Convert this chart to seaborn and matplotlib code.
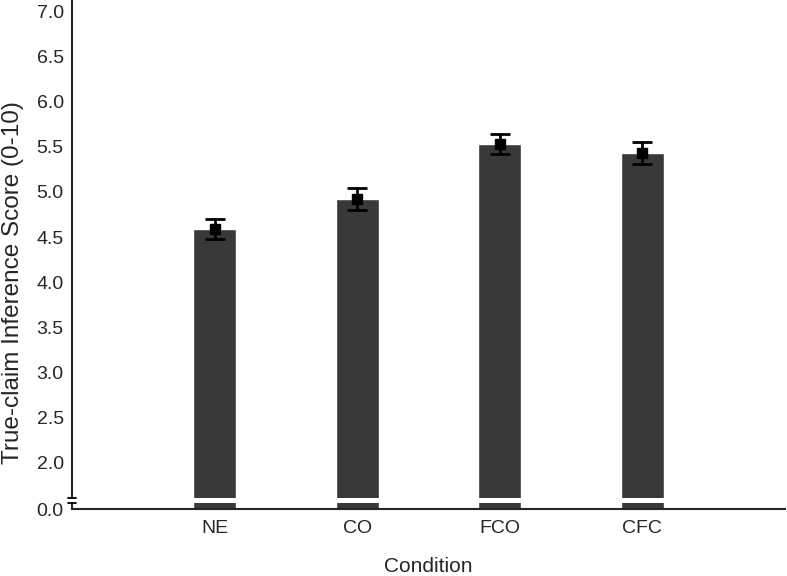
import matplotlib
matplotlib.use("Agg")
import matplotlib.pyplot as plt
import seaborn as sns
import numpy as np

conditions = ["NE", "CO", "FCO", "CFC"]
means = [4.59, 4.92, 5.53, 5.43]
errors = [0.11, 0.12, 0.11, 0.12]
upper_ticks = [2.0, 2.5, 3.0, 3.5, 4.0, 4.5, 5.0, 5.5, 6.0, 6.5, 7.0]

sns.set_style("white")
plt.rcParams["font.family"] = ["Liberation Sans", "DejaVu Sans"]

W, H = 787, 576
fig = plt.figure(figsize=(W / 100, H / 100), dpi=100)
left, right = 72 / W, 785 / W
ax_top = fig.add_axes([left, (H - 497.5) / H, right - left, 497.5 / H])
ax_bot = fig.add_axes([left, (H - 509) / H, right - left, 6 / H])

bar_color = "#393939"
for ax in (ax_top, ax_bot):
    sns.barplot(x=conditions, y=means, color=bar_color, width=0.3,
                errorbar=None, saturation=1, ax=ax)
    ax.set_xlim(-1, 4)
    for s in ["top", "right"]:
        ax.spines[s].set_visible(False)
    ax.spines["left"].set_linewidth(1.5)
    ax.tick_params(axis="y", direction="in", length=4, width=1.3,
                   labelsize=14, pad=6)
    ax.set_facecolor("none")

ax_top.errorbar(np.arange(len(conditions)), means, yerr=errors, fmt="s",
                color="black", markersize=7, capsize=7, elinewidth=2,
                capthick=2)
ax_top.set_ylim(1.61, 7.13)
ax_top.set_yticks(upper_ticks)
ax_top.set_yticklabels([f"{t:.1f}" for t in upper_ticks])
ax_top.spines["bottom"].set_visible(False)
ax_top.set_xticks([])
ax_top.set_xlabel("")
ax_top.set_ylabel("True-claim Inference Score (0-10)", fontsize=17.5)
ax_top.yaxis.set_label_coords(-0.068, 0.432)

ax_bot.set_ylim(0, 0.07)
ax_bot.set_yticks([0])
ax_bot.set_yticklabels(["0.0"])
ax_bot.spines["bottom"].set_linewidth(1.5)
ax_bot.tick_params(axis="x", length=0, labelsize=14, pad=8)
ax_bot.set_xlabel("Condition", fontsize=15, labelpad=14)
ax_bot.set_ylabel("")

# axis break marks
kw = dict(color="black", lw=1.3, clip_on=False, transform=fig.transFigure)
fig.add_artist(plt.Line2D([68 / W, 76 / W], [1 - 497.5 / H, 1 - 497.5 / H], **kw))
fig.add_artist(plt.Line2D([68 / W, 76 / W], [1 - 503 / H, 1 - 503 / H], **kw))

fig.savefig("out.png", dpi=100)
